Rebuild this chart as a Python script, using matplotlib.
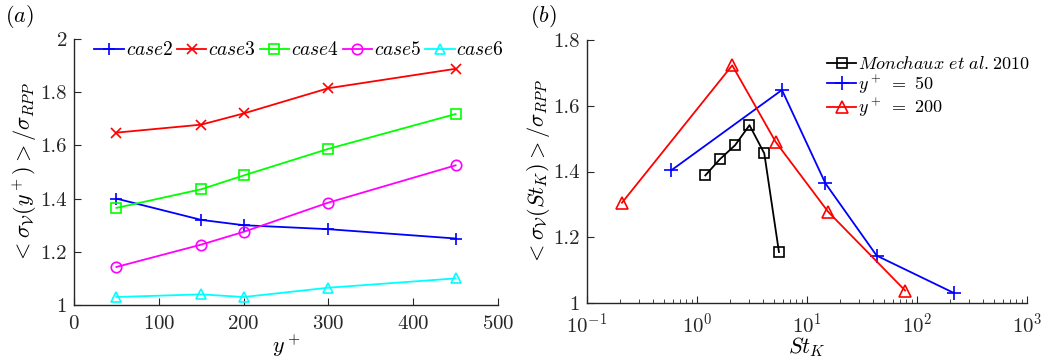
import numpy as np
import matplotlib
matplotlib.use("Agg")
import matplotlib.pyplot as plt

plt.rcParams['mathtext.fontset'] = 'cm'
plt.rcParams['font.family'] = 'serif'
plt.rcParams['font.serif'] = ['cmr10', 'DejaVu Serif']
plt.rcParams['axes.unicode_minus'] = False
plt.rcParams['axes.formatter.use_mathtext'] = True

# Panel (a)
yplus = [50, 150, 200, 300, 450]
case2 = [1.40, 1.32, 1.30, 1.285, 1.25]
case3 = [1.648, 1.678, 1.72, 1.815, 1.888]
case4 = [1.365, 1.435, 1.487, 1.587, 1.718]
case5 = [1.143, 1.227, 1.275, 1.385, 1.525]
case6 = [1.03, 1.04, 1.03, 1.065, 1.10]
case_labels = ['$case2$', '$case3$', '$case4$', '$case5$', '$case6$']

# Panel (b)
mon_st = [1.19, 1.61, 2.22, 3.0, 4.09, 5.56]
mon_val = [1.388, 1.437, 1.480, 1.541, 1.455, 1.155]
y50_st = [0.586, 5.92, 14.7, 43.0, 218]
y50_val = [1.404, 1.648, 1.364, 1.144, 1.030]
y200_st = [0.208, 2.09, 5.19, 15.6, 78]
y200_val = [1.305, 1.723, 1.490, 1.277, 1.038]
b_labels = [r'$Monchaux\ et\ al.2010$', r'$y^+\ =\ 50$', r'$y^+\ =\ 200$']

fig = plt.figure(figsize=(10.6, 3.64), dpi=100)
W, H = 1060, 364
ax1 = fig.add_axes([74/W, 1-305/H, (498-74)/W, (305-39)/H])
ax2 = fig.add_axes([587/W, 1-303/H, (1027-587)/W, (303-40)/H])

lw = 1.3
series_a = [case2, case3, case4, case5, case6]
styles_a = [((0, 0, 1), '+', 9), ((1, 0, 0), 'x', 7), ((0, 1, 0), 's', 7),
            ((1, 0, 1), 'o', 7.5), ((0, 1, 1), '^', 7.5)]
for vals, (c, m, ms), lab in zip(series_a, styles_a, case_labels):
    ax1.plot(yplus, vals, color=c, marker=m, lw=lw, ms=ms, mfc='none', mew=1.2, label=lab)
ax1.set_xlim(0, 500)
ax1.set_ylim(1, 2)
ax1.set_xticks([0, 100, 200, 300, 400, 500])
ax1.set_yticks([1, 1.2, 1.4, 1.6, 1.8, 2])
ax1.set_yticklabels(['1', '1.2', '1.4', '1.6', '1.8', '2'])
ax1.set_xlabel('$y^+$', fontsize=16, labelpad=0)
ax1.set_ylabel(r'$<\sigma_{\mathcal{V}}(y^+)>/\sigma_{RPP}$', fontsize=16, labelpad=1)
ax1.legend(loc='upper left', bbox_to_anchor=(0.03, 1.02), ncol=5, frameon=False,
           fontsize=14, handlelength=1.5, handletextpad=0.1, columnspacing=0.2,
           borderaxespad=0)

ax2.plot(mon_st, mon_val, color='k', marker='s', lw=lw, ms=7, mfc='none', mew=1.2, label=b_labels[0])
ax2.plot(y50_st, y50_val, color=(0, 0, 1), marker='+', lw=lw, ms=10, mew=1.2, label=b_labels[1])
ax2.plot(y200_st, y200_val, color=(1, 0, 0), marker='^', lw=lw, ms=9, mfc='none', mew=1.2, label=b_labels[2])
ax2.set_xscale('log')
ax2.set_xlim(0.1, 1000)
ax2.set_ylim(1, 1.8)
ax2.set_yticks([1, 1.2, 1.4, 1.6, 1.8])
ax2.set_yticklabels(['1', '1.2', '1.4', '1.6', '1.8'])
ax2.set_xlabel('$St_K$', fontsize=16, labelpad=-1)
ax2.set_ylabel(r'$<\sigma_{\mathcal{V}}(St_K)>/\sigma_{RPP}$', fontsize=16, labelpad=1)
ax2.legend(loc='upper left', bbox_to_anchor=(0.53, 0.97), frameon=False,
           fontsize=13, handlelength=1.6, handletextpad=0.1, labelspacing=0.05,
           borderaxespad=0)

for ax in (ax1, ax2):
    ax.spines['top'].set_visible(False)
    ax.spines['right'].set_visible(False)
    for s in ('left', 'bottom'):
        ax.spines[s].set_linewidth(1.0)
        ax.spines[s].set_color('#262626')
    ax.tick_params(which='both', direction='in', labelsize=15, colors='#262626')
    ax.tick_params(which='major', length=5)
    ax.tick_params(which='minor', length=3)
    ax.tick_params(axis='x', pad=7)
    ax.tick_params(axis='y', pad=5)

fig.text(5/W, 1-17/H, '$(a)$', fontsize=16, va='center', ha='left')
fig.text(530/W, 1-17/H, '$(b)$', fontsize=16, va='center', ha='left')

fig.savefig('out.png', dpi=100)
